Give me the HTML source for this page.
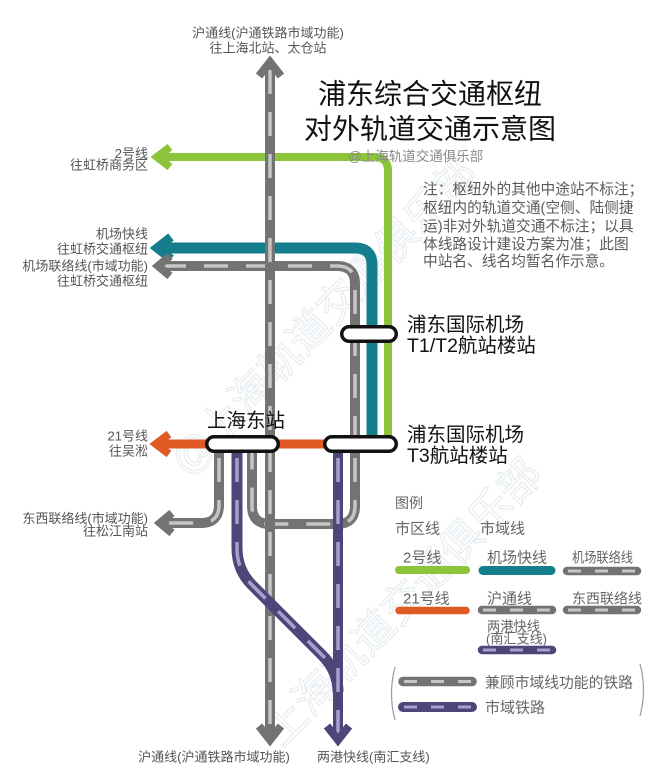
<!DOCTYPE html>
<html>
<head>
<meta charset="utf-8">
<style>
html,body{margin:0;padding:0;background:#fff;}
svg{display:block;}
text{font-family:"Liberation Sans","Noto Sans CJK SC",sans-serif;}
</style>
</head>
<body>
<svg width="667" height="764" viewBox="0 0 667 764" xmlns="http://www.w3.org/2000/svg">
<rect width="667" height="764" fill="#fff"/>

<!-- watermarks -->
<g fill="none" stroke="#e6ecf0" stroke-width="1.2" font-size="42">
  <text x="188" y="478" transform="rotate(-46 188 478)">@上海轨道交通俱乐部</text>
  <text x="282" y="748" transform="rotate(-46 282 748)">上海轨道交通俱乐部</text>
</g>

<g fill="none" stroke-linejoin="miter">
  <!-- orange 21 -->
  <path d="M157,444 L326,444" stroke="#e15a26" stroke-width="9"/>
  <polyline points="169,434 156,444 169,454" stroke="#e15a26" stroke-width="8"/>

  <!-- green 2 -->
  <path d="M157,157 L374,157 Q388,157 388,171 L388,438" stroke="#8cc43c" stroke-width="8"/>
  <polyline points="170,147 157,157 170,167" stroke="#8cc43c" stroke-width="8"/>

  <!-- teal -->
  <path d="M157,248 L355,248 Q372,248 372,265 L372,438" stroke="#147e8c" stroke-width="11"/>
  <polyline points="171,237 157,248 171,259" stroke="#147e8c" stroke-width="9"/>

  <!-- gray airport link -->
  <path d="M158,266 L337,266 Q355,266 355,284 L355,506 Q355,524 337,524 L270,524 Q252,524 252,506 L252,450" stroke="#737373" stroke-width="10"/>
  <path d="M162,266 L337,266 Q355,266 355,284 L355,506 Q355,524 337,524 L270,524 Q252,524 252,506 L252,450" stroke="#c6c6c6" stroke-width="3.5" stroke-dasharray="24 18"/>
  <polyline points="170,256 158,266 170,276" stroke="#737373" stroke-width="8"/>

  <!-- gray east-west link -->
  <path d="M219,450 L219,505 Q219,523 201,523 L160,523" stroke="#737373" stroke-width="10"/>
  <path d="M219,458 L219,505 Q219,523 201,523 L164,523" stroke="#c6c6c6" stroke-width="3.5" stroke-dasharray="24 18"/>
  <polyline points="172,513 160,523 172,533" stroke="#737373" stroke-width="8"/>

  <!-- main gray vertical -->
  <path d="M270,62 L270,740" stroke="#737373" stroke-width="10"/>
  <path d="M270,70 L270,736" stroke="#c6c6c6" stroke-width="3.5" stroke-dasharray="24 18"/>
  <polyline points="259,76 270,62 281,76" stroke="#737373" stroke-width="8"/>
  <polyline points="259,726 270,740 281,726" stroke="#737373" stroke-width="8"/>

  <!-- purple branch -->
  <path d="M237,450 L237,548 Q237,570 252,585 L322,655 Q338,671 338,692" stroke="#4f4579" stroke-width="11"/>
  <path d="M237,458 L237,548 Q237,570 252,585 L322,655 Q338,671 338,692" stroke="#a89fcc" stroke-width="3.5" stroke-dasharray="24 18"/>
  <!-- purple main -->
  <path d="M338,450 L338,740" stroke="#4f4579" stroke-width="10"/>
  <path d="M338,458 L338,734" stroke="#a89fcc" stroke-width="3.5" stroke-dasharray="24 18"/>
  <polyline points="327,726 338,740 349,726" stroke="#4f4579" stroke-width="8"/>
</g>

<!-- station pills -->
<g fill="#fff" stroke="#111" stroke-width="3.5">
  <rect x="206.75" y="436.75" width="71.5" height="14.5" rx="7.25"/>
  <rect x="324.75" y="436.75" width="71.5" height="14.5" rx="7.25"/>
  <rect x="341.75" y="326.75" width="54.5" height="14.5" rx="7.25"/>
</g>

<!-- top / bottom labels -->
<g fill="#555" font-size="13">
  <text x="268" y="37.5" text-anchor="middle">沪通线(沪通铁路市域功能)</text>
  <text x="268" y="52.5" text-anchor="middle">往上海北站、太仓站</text>
  <text x="214" y="761.5" text-anchor="middle">沪通线(沪通铁路市域功能)</text>
  <text x="317" y="761.5">两港快线(南汇支线)</text>
</g>

<!-- left labels -->
<g fill="#555" font-size="13" text-anchor="end">
  <text x="148" y="158">2号线</text>
  <text x="148" y="169.5">往虹桥商务区</text>
  <text x="148" y="238.5">机场快线</text>
  <text x="148" y="253.5">往虹桥交通枢纽</text>
  <text x="148" y="270.5">机场联络线(市域功能)</text>
  <text x="148" y="285.5">往虹桥交通枢纽</text>
  <text x="148" y="440.5">21号线</text>
  <text x="148" y="455.5">往吴淞</text>
  <text x="148" y="523">东西联络线(市域功能)</text>
  <text x="148" y="535.5">往松江南站</text>
</g>

<!-- title -->
<g fill="#111" font-size="28" text-anchor="middle">
  <text x="430" y="103.5">浦东综合交通枢纽</text>
  <text x="430" y="138.5">对外轨道交通示意图</text>
</g>
<text x="348" y="161" font-size="13.5" fill="#8a8a8a">@上海轨道交通俱乐部</text>

<!-- note -->
<g fill="#5a5a5a" font-size="14.7">
  <text x="423" y="194">注：枢纽外的其他中途站不标注；</text>
  <text x="423" y="212.5">枢纽内的轨道交通(空侧、陆侧捷</text>
  <text x="423" y="231">运)非对外轨道交通不标注；以具</text>
  <text x="423" y="249">体线路设计建设方案为准；此图</text>
  <text x="423" y="266">中站名、线名均暂名作示意。</text>
</g>

<!-- station names -->
<g fill="#111" font-size="19.5">
  <text x="407" y="331">浦东国际机场</text>
  <text x="407" y="352">T1/T2航站楼站</text>
  <text x="407" y="441">浦东国际机场</text>
  <text x="407" y="462">T3航站楼站</text>
  <text x="207" y="427">上海东站</text>
</g>

<!-- legend -->
<g fill="#666">
  <text x="395" y="508" font-size="14">图例</text>
  <text x="395" y="533.5" font-size="15">市区线</text>
  <text x="480" y="533.5" font-size="15">市域线</text>
  <text x="403" y="562.5" font-size="15">2号线</text>
  <text x="487" y="562.5" font-size="15">机场快线</text>
  <text x="572" y="562.5" font-size="14" textLength="61" lengthAdjust="spacingAndGlyphs">机场联络线</text>
  <text x="403" y="603.5" font-size="15">21号线</text>
  <text x="487" y="603.5" font-size="15">沪通线</text>
  <text x="572" y="603.5" font-size="14" textLength="70" lengthAdjust="spacingAndGlyphs">东西联络线</text>
  <text x="487" y="631.5" font-size="14" textLength="53" lengthAdjust="spacingAndGlyphs">两港快线</text>
  <text x="486" y="643.5" font-size="14" textLength="61" lengthAdjust="spacingAndGlyphs">(南汇支线)</text>
  <text x="485" y="687.5" font-size="15" textLength="148" lengthAdjust="spacingAndGlyphs">兼顾市域线功能的铁路</text>
  <text x="485" y="712.5" font-size="15">市域铁路</text>
</g>

<g fill="none" stroke-linecap="round">
  <line x1="399" y1="570" x2="466" y2="570" stroke="#8cc43c" stroke-width="8"/>
  <line x1="483" y1="570.5" x2="551" y2="570.5" stroke="#147e8c" stroke-width="9"/>
  <line x1="567" y1="571" x2="637" y2="571" stroke="#737373" stroke-width="8.5"/>
  <line x1="399" y1="610.5" x2="466" y2="610.5" stroke="#e15a26" stroke-width="7.5"/>
  <line x1="482" y1="610" x2="552" y2="610" stroke="#737373" stroke-width="8.5"/>
  <line x1="567" y1="610" x2="637" y2="610" stroke="#737373" stroke-width="8.5"/>
  <line x1="482" y1="650" x2="552" y2="650" stroke="#4f4579" stroke-width="8.5"/>
  <line x1="403" y1="681.5" x2="472" y2="681.5" stroke="#737373" stroke-width="9.5"/>
  <line x1="403" y1="707" x2="472" y2="707" stroke="#4f4579" stroke-width="10"/>
</g>
<g fill="none" stroke-width="3" stroke-linecap="butt">
  <path d="M568,571h13M595,571h13M622,571h13" stroke="#c6c6c6"/>
  <path d="M483,610h13M510,610h13M537,610h13" stroke="#c6c6c6"/>
  <path d="M568,610h13M595,610h13M622,610h13" stroke="#c6c6c6"/>
  <path d="M483,650h13M510,650h13M537,650h13" stroke="#a89fcc"/>
  <path d="M404,681.5h13M431,681.5h13M458,681.5h13" stroke="#c6c6c6"/>
  <path d="M404,707h13M431,707h13M458,707h13" stroke="#a89fcc"/>
</g>
<!-- brackets -->
<path d="M395,667 Q388,694 395,720" fill="none" stroke="#9a9a9a" stroke-width="1.2"/>
<path d="M640,664 Q647,690 640,716" fill="none" stroke="#9a9a9a" stroke-width="1.2"/>

</svg>
</body>
</html>
